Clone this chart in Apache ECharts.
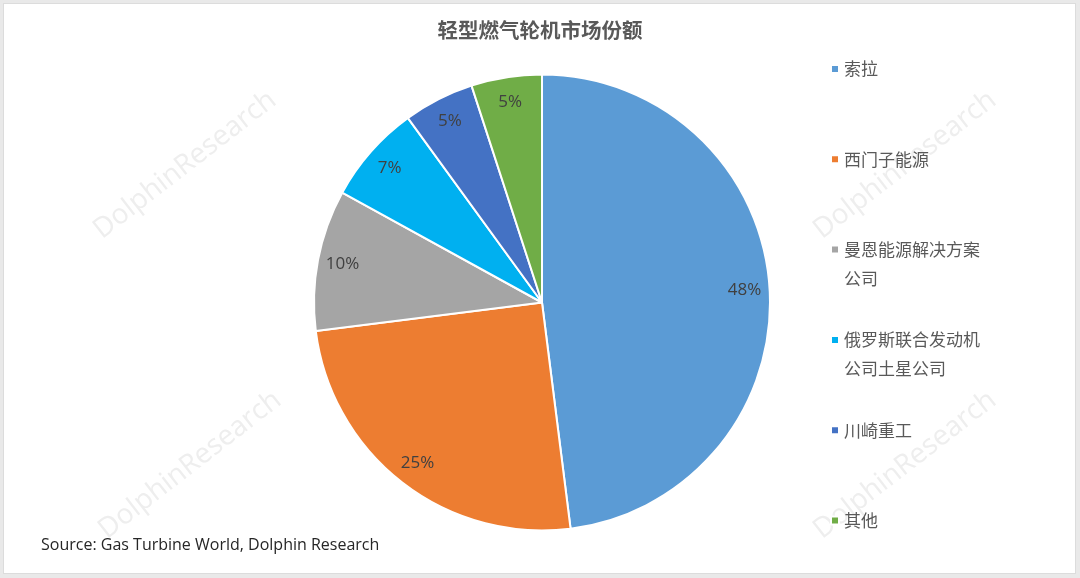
<!DOCTYPE html>
<html>
<head>
<meta charset="utf-8">
<script src="https://cdn.jsdelivr.net/npm/echarts@6/dist/echarts.min.js"></script>
<style>
html,body{margin:0;padding:0;background:#e9e9e9;}
#frame{position:absolute;left:3px;top:3px;width:1073px;height:571px;background:#fff;border:1px solid #dcdcdc;box-sizing:border-box;}
#chart{position:absolute;left:0;top:0;width:1080px;height:578px;}
</style>
</head>
<body>
<div id="frame"></div>
<div id="chart"></div>
<script>
const title = '轻型燃气轮机市场份额';
const categories = ['索拉', '西门子能源', '曼恩能源解决方案\n公司', '俄罗斯联合发动机\n公司土星公司', '川崎重工', '其他'];
const shares = [48, 25, 10, 7, 5, 5];
const colors = ['#5B9BD5', '#ED7D31', '#A5A5A5', '#00B0F0', '#4472C4', '#70AD47'];
const sourceText = 'Source: Gas Turbine World, Dolphin Research';
const watermark = 'DolphinResearch';

const chart = echarts.init(document.getElementById('chart'), null, {renderer: 'canvas'});
const cx = 542, cy = 302.5, R = 228;
const legendTop0 = 55.5, legendStep = 90.3, legendX = 825;
const cjk = '"Noto Sans CJK SC", "Noto Sans", sans-serif';

const data = categories.map((c, i) => ({name: c, value: shares[i], itemStyle: {color: colors[i]}}));

const legends = categories.map((c, i) => ({
  show: true,
  data: [{name: c, icon: 'rect'}],
  left: legendX,
  top: legendTop0 + i * legendStep,
  itemWidth: 8, itemHeight: 8, itemGap: 6,
  selectedMode: false,
  formatter: n => n.split('\n')[0],
  textStyle: {color: '#595959', fontSize: 17, fontFamily: cjk}
}));

const graphics = [];
categories.forEach((c, i) => {
  const parts = c.split('\n');
  parts.slice(1).forEach((p, k) => {
    graphics.push({type: 'text', left: legendX + 19, top: legendTop0 + i * legendStep + 33.5 + 30 * k,
      style: {text: p, fill: '#595959', font: '17px ' + cjk}});
  });
});
[[185, 165], [905, 165], [190, 465], [905, 465]].forEach(p => {
  graphics.push({type: 'text', x: p[0], y: p[1], rotation: 0.66, z: -10, silent: true,
    style: {text: watermark, fill: '#eeeeee', font: '28px "Open Sans", sans-serif', align: 'center', verticalAlign: 'middle'}});
});
graphics.push({type: 'text', left: 41, top: 537,
  style: {text: sourceText, fill: '#262626', font: '16px "Open Sans", sans-serif'}});

chart.setOption({
  animation: false,
  title: {text: title, left: 'center', top: 15,
    textStyle: {fontSize: 20.5, fontWeight: 'bold', color: '#595959', fontFamily: cjk}},
  legend: legends,
  graphic: graphics,
  series: [
    {
      type: 'pie', center: [cx, cy], radius: [0, R], startAngle: 90, clockwise: true,
      silent: true,
      itemStyle: {borderColor: '#fff', borderWidth: 2},
      label: {show: false}, labelLine: {show: false},
      data: data
    },
    {
      type: 'pie', center: [cx, cy], radius: [172, R], startAngle: 90, clockwise: true,
      silent: true, z: 5,
      legendHoverLink: false,
      itemStyle: {color: 'rgba(0,0,0,0)', borderWidth: 0},
      label: {show: true, position: 'inside', formatter: p => p.value + '%',
        color: '#404040', fontSize: 17, fontFamily: '"Open Sans", sans-serif'},
      labelLine: {show: false},
      data: categories.map((c, i) => ({name: c, value: shares[i], itemStyle: {color: 'rgba(0,0,0,0)'}}))
    }
  ]
});
</script>
</body>
</html>
